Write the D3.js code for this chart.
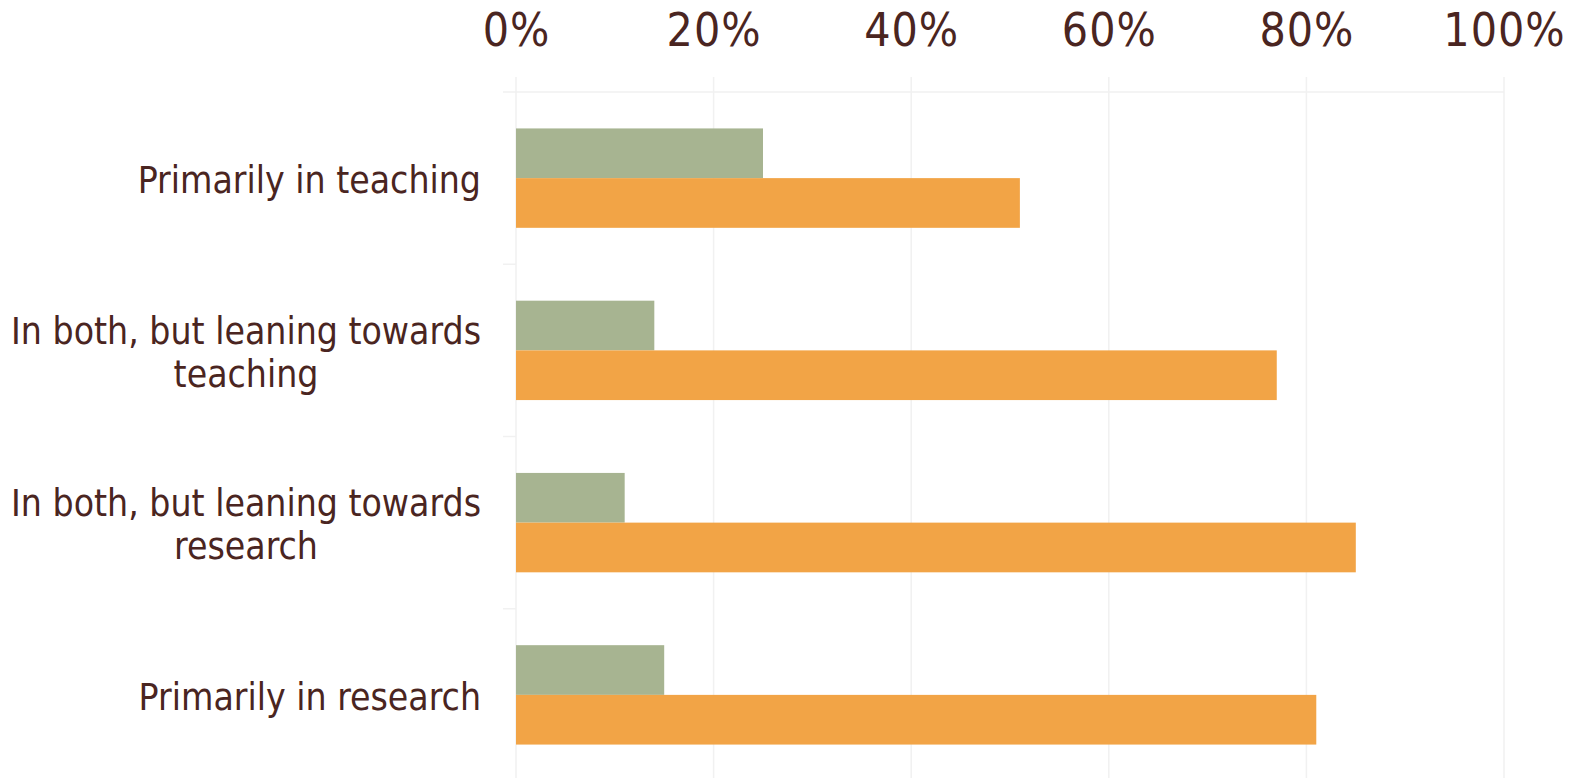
<!DOCTYPE html>
<html>
<head>
<meta charset="utf-8">
<script src="https://cdn.jsdelivr.net/npm/d3@7"></script>
<style>
  body { margin: 0; background: #fff; }
  .label { font-family: Tahoma, "DejaVu Sans Condensed", "DejaVu Sans", sans-serif; font-stretch: condensed; fill: #4a2521; }
</style>
</head>
<body>
<div id="chart"></div>
<script>
// ----- data -----
const categories = [
  "Primarily in teaching",
  "In both, but leaning towards teaching",
  "In both, but leaning towards research",
  "Primarily in research"
];
const seriesNames = ["green", "orange"];
const greenValues = [25, 14, 11, 15];
const orangeValues = [51, 77, 85, 81];
const xTicks = [0, 20, 40, 60, 80, 100];

const colors = { green: "#a7b491", orange: "#f2a446" };

// ----- layout -----
const width = 1583;
const height = 778;
const plotLeft = 516, plotRight = 1504, plotTop = 92, plotBottom = 781;

const svg = d3.select("#chart").append("svg")
    .attr("width", width)
    .attr("height", height);

const x = d3.scaleLinear().domain([0, 100]).range([plotLeft, plotRight]);
const y = d3.scaleBand().domain(categories).range([plotTop, plotBottom])
    .paddingInner(0.423).paddingOuter(0.2115);
const ySub = d3.scaleBand().domain(seriesNames).range([0, y.bandwidth()]);

const rows = categories.map((c, i) => ({ cat: c, green: greenValues[i], orange: orangeValues[i] }));

// gridlines
svg.append("g").selectAll("line")
  .data(xTicks)
  .join("line")
    .attr("x1", d => x(d)).attr("x2", d => x(d))
    .attr("y1", plotTop - 15).attr("y2", plotBottom)
    .attr("stroke", "#f1f1f1").attr("stroke-width", 1.5);

// top axis line + band boundary ticks
svg.append("line")
    .attr("x1", plotLeft - 13).attr("x2", plotRight)
    .attr("y1", plotTop).attr("y2", plotTop)
    .attr("stroke", "#f1f1f1").attr("stroke-width", 1.5);

const step = y.step();
svg.append("g").selectAll("line")
  .data(categories.slice(1))
  .join("line")
    .attr("x1", plotLeft - 13).attr("x2", plotLeft)
    .attr("y1", d => y(d) - y.paddingInner() * step / 2)
    .attr("y2", d => y(d) - y.paddingInner() * step / 2)
    .attr("stroke", "#f1f1f1").attr("stroke-width", 1.5);

// x axis labels on top
const xAxis = d3.axisTop(x).tickValues(xTicks).tickSize(0).tickFormat(d => d + "%");
const gx = svg.append("g")
    .attr("transform", "translate(0,46)")
    .call(xAxis);
gx.select(".domain").remove();
gx.selectAll("text")
    .attr("class", "label")
    .attr("y", 0).attr("dy", 0)
    .style("font-size", "46px")
    .style("letter-spacing", "1px");

// bars
const groups = svg.append("g").selectAll("g")
  .data(rows)
  .join("g")
    .attr("transform", d => "translate(0," + y(d.cat) + ")");

groups.selectAll("rect")
  .data(d => seriesNames.map(s => ({ key: s, value: d[s] })))
  .join("rect")
    .attr("x", x(0))
    .attr("y", d => ySub(d.key))
    .attr("width", d => x(d.value) - x(0))
    .attr("height", ySub.bandwidth())
    .attr("fill", d => colors[d.key]);

// category labels, wrapped and centred on each other, block right aligned
const labelRight = 481;
const fontSize = 37;
const lineGap = 43;
categories.forEach(function(cat) {
  const g = svg.append("g");
  const t = g.append("text").attr("class", "label").style("font-size", fontSize + "px");
  // greedy word wrap
  const words = cat.split(" ");
  let lines = [], cur = "";
  words.forEach(function(w) {
    const test = cur ? cur + " " + w : w;
    t.text(test);
    if (t.node().getComputedTextLength() > 490 && cur) { lines.push(cur); cur = w; }
    else cur = test;
  });
  lines.push(cur);
  t.remove();

  const widths = lines.map(function(l) {
    const tt = g.append("text").attr("class", "label").style("font-size", fontSize + "px").text(l);
    const w = tt.node().getComputedTextLength();
    tt.remove();
    return w;
  });
  const blockW = d3.max(widths);
  const cy = y(cat) + y.bandwidth() / 2 + 2;
  const y0 = cy - (lines.length - 1) * lineGap / 2;
  g.selectAll("text")
    .data(lines)
    .join("text")
      .attr("class", "label")
      .style("font-size", fontSize + "px")
      .attr("text-anchor", "middle")
      .attr("x", labelRight - blockW / 2)
      .attr("y", (d, i) => y0 + i * lineGap)
      .attr("dy", "0.35em")
      .text(d => d);
});
</script>
</body>
</html>
